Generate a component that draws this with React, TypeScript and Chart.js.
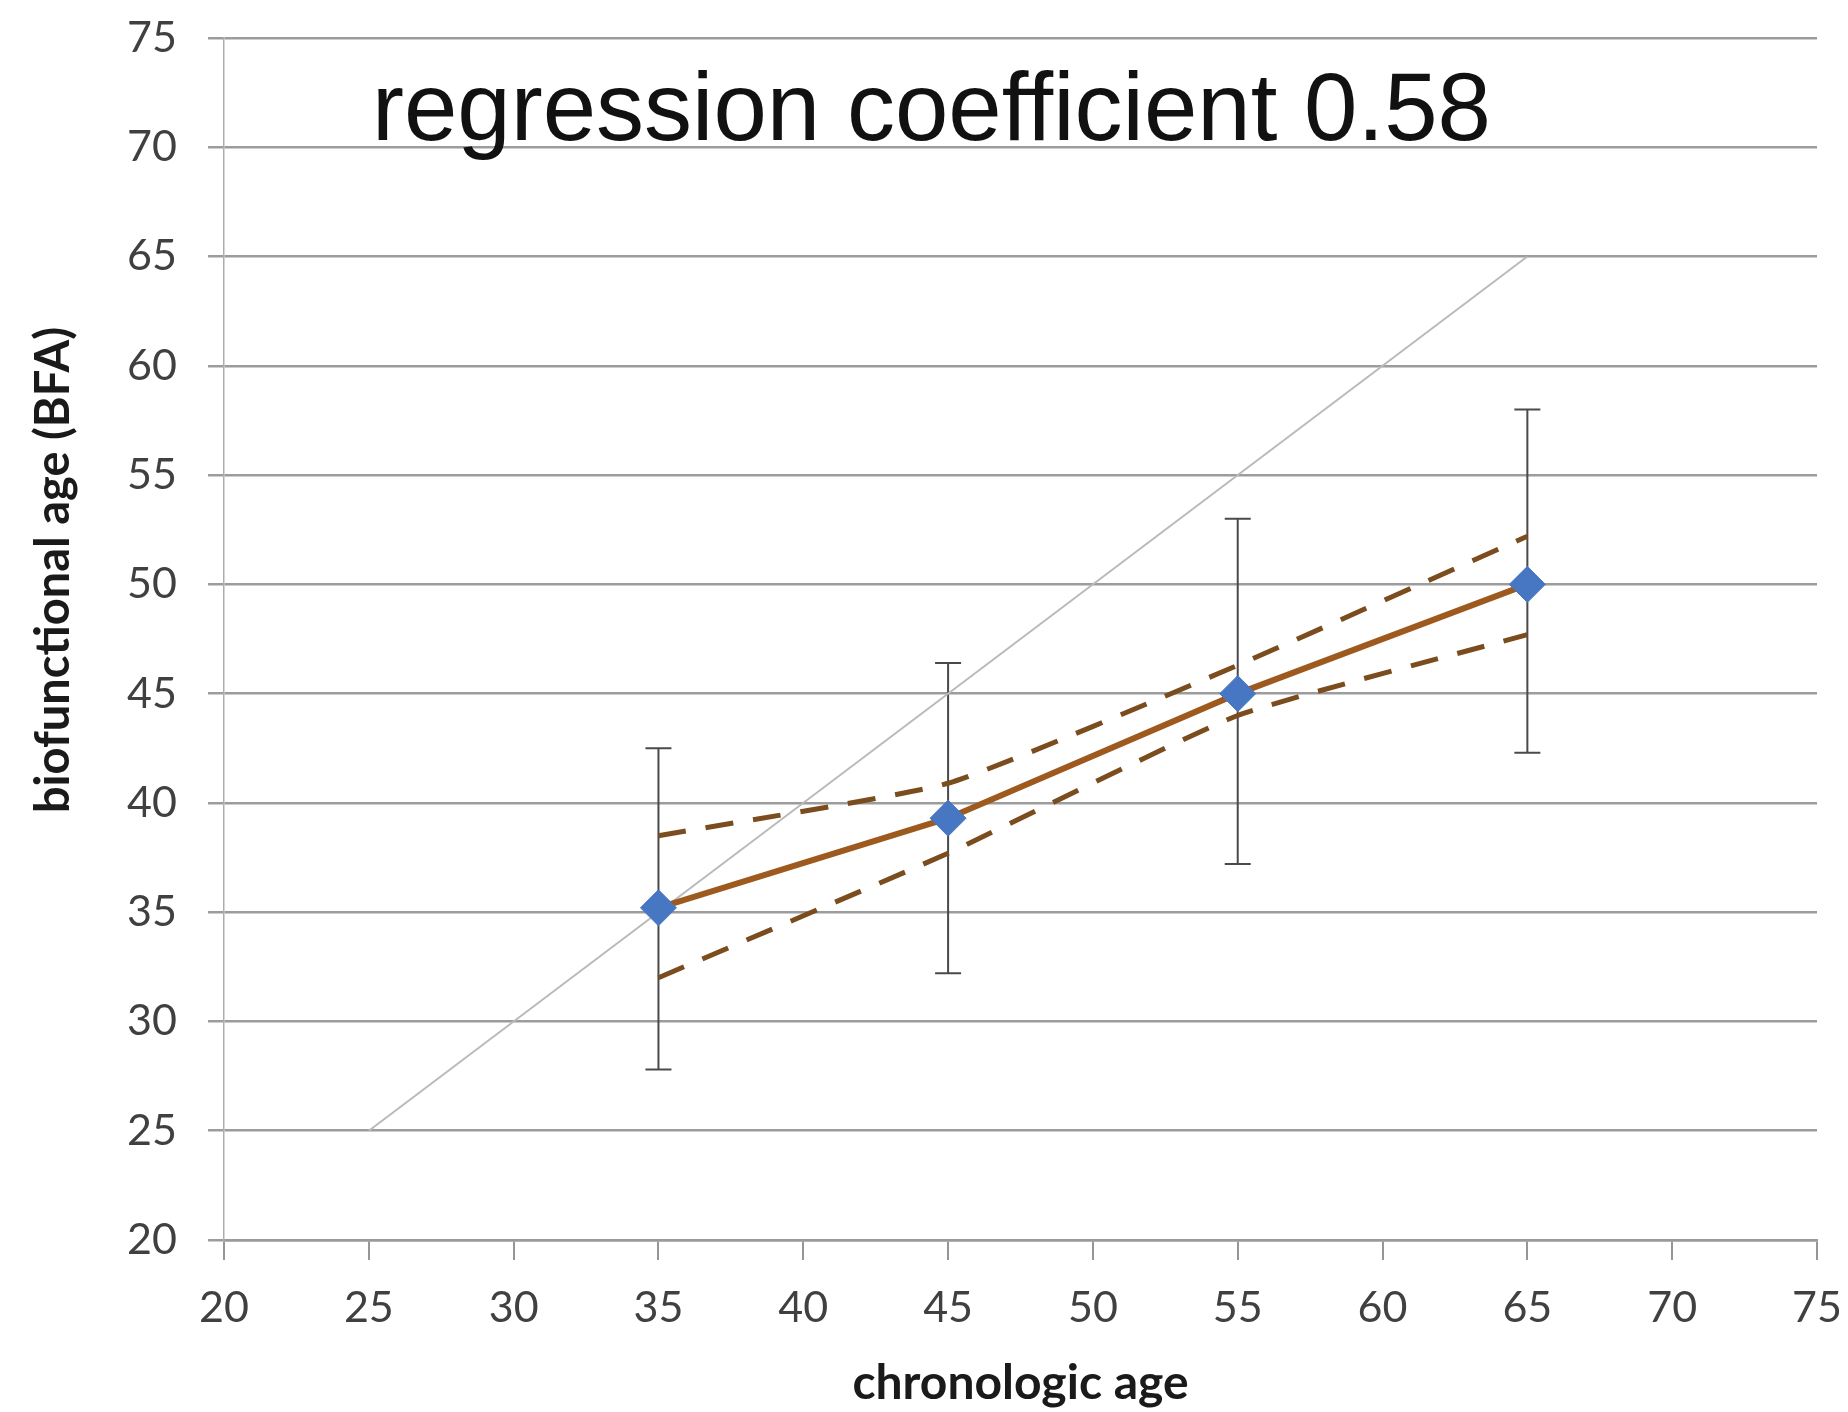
import React, { useEffect, useRef } from 'react';
import { Chart, registerables } from 'chart.js';

Chart.register(...registerables);

// ---- data ----
const chronologicAge = [35, 45, 55, 65];
const meanBFA = [35.2, 39.3, 45.0, 50.0];
const errorHigh = [42.5, 46.4, 53.0, 58.0];
const errorLow = [27.8, 32.2, 37.2, 42.3];
const ciUpper = [38.5, 40.9, 46.3, 52.2];
const ciLower = [32.0, 37.7, 44.0, 47.7];
const identityX = [25, 65];
const identityY = [25, 65];
const axisMin = 20;
const axisMax = 75;
const axisStep = 5;
const annotationText = 'regression coefficient 0.58';
const xTitle = 'chronologic age';
const yTitle = 'biofunctional age (BFA)';

const toPoints = (xs: number[], ys: number[]) => xs.map((x, i) => ({ x, y: ys[i] }));

const decorPlugin = {
  id: 'decor',
  beforeDatasetsDraw(chart: any) {
    const { ctx, scales } = chart;
    const xs = scales.x;
    const ys = scales.y;
    ctx.save();
    ctx.strokeStyle = '#4a4a4a';
    ctx.lineWidth = 2;
    chronologicAge.forEach((age, i) => {
      const px = xs.getPixelForValue(age);
      const pTop = ys.getPixelForValue(errorHigh[i]);
      const pBot = ys.getPixelForValue(errorLow[i]);
      ctx.beginPath();
      ctx.moveTo(px, pTop);
      ctx.lineTo(px, pBot);
      ctx.moveTo(px - 13, pTop);
      ctx.lineTo(px + 13, pTop);
      ctx.moveTo(px - 13, pBot);
      ctx.lineTo(px + 13, pBot);
      ctx.stroke();
    });
    ctx.restore();
  },
  afterDraw(chart: any) {
    const { ctx, chartArea } = chart;
    ctx.save();
    // annotation
    ctx.fillStyle = '#111111';
    ctx.font = '96px "Liberation Sans", Arial, sans-serif';
    ctx.textAlign = 'left';
    ctx.textBaseline = 'alphabetic';
    ctx.fillText(annotationText, chartArea.left + 148, chartArea.top + 102);
    // y title
    ctx.translate(54, 570);
    ctx.rotate(-Math.PI / 2);
    ctx.font = 'bold 47px Lato, sans-serif';
    ctx.fillStyle = '#1a1a1a';
    ctx.textAlign = 'center';
    ctx.textBaseline = 'middle';
    ctx.fillText(yTitle, 0, 0);
    ctx.restore();
  },
};

export default function App() {
  const canvasRef = useRef<HTMLCanvasElement | null>(null);

  useEffect(() => {
    if (!canvasRef.current) return;
    const chart = new Chart(canvasRef.current, {
      type: 'line',
      data: {
        datasets: [
          {
            label: 'mean BFA',
            data: toPoints(chronologicAge, meanBFA),
            borderColor: '#9e5a1e',
            borderWidth: 6,
            pointStyle: 'rectRot',
            pointRadius: 18,
            pointBackgroundColor: '#4776c2',
            pointBorderColor: '#4776c2',
            pointBorderWidth: 1,
            tension: 0,
          },
          {
            label: 'upper CI',
            data: toPoints(chronologicAge, ciUpper),
            borderColor: '#7a4c1e',
            borderWidth: 5,
            borderDash: [28, 20],
            pointRadius: 0,
            tension: 0.15,
          },
          {
            label: 'lower CI',
            data: toPoints(chronologicAge, ciLower),
            borderColor: '#7a4c1e',
            borderWidth: 5,
            borderDash: [28, 20],
            pointRadius: 0,
            tension: 0.15,
          },
          {
            label: 'identity',
            data: toPoints(identityX, identityY),
            borderColor: '#bababa',
            borderWidth: 2,
            pointRadius: 0,
          },
        ],
      },
      options: {
        responsive: false,
        animation: false,
        events: [],
        layout: { padding: { left: 0, right: 31, top: 38, bottom: 0 } },
        plugins: { legend: { display: false }, tooltip: { enabled: false } },
        scales: {
          x: {
            type: 'linear',
            min: axisMin,
            max: axisMax,
            afterFit: (s: any) => {
              s.height = 172;
              s.paddingLeft = 0;
              s.paddingRight = 0;
            },
            ticks: {
              stepSize: axisStep,
              color: '#404040',
              font: { family: 'Lato', size: 43 },
              padding: 22,
              maxRotation: 0,
            },
            grid: {
              drawOnChartArea: false,
              drawTicks: true,
              tickLength: 20,
              color: '#969696',
              lineWidth: 2,
            },
            border: { color: '#9a9a9a', width: 2.5 },
            title: {
              display: true,
              text: xTitle,
              color: '#1a1a1a',
              font: { family: 'Lato', size: 48, weight: 'bold' },
              padding: { top: 0, bottom: 0 },
            },
          },
          y: {
            type: 'linear',
            min: axisMin,
            max: axisMax,
            afterFit: (s: any) => {
              s.width = 224;
              s.paddingTop = 0;
              s.paddingBottom = 0;
            },
            ticks: {
              stepSize: axisStep,
              color: '#404040',
              font: { family: 'Lato', size: 43 },
              padding: 31,
            },
            grid: {
              color: '#9c9c9c',
              lineWidth: 2.5,
              tickLength: 16,
            },
            border: { color: '#adadad', width: 1.5 },
          },
        },
      },
      plugins: [decorPlugin],
    });
    return () => chart.destroy();
  }, []);

  return (
    <div style={{ position: 'absolute', left: 0, top: 0, width: 1848, height: 1412, background: '#ffffff' }}>
      <canvas ref={canvasRef} width={1848} height={1412} style={{ width: 1848, height: 1412, display: 'block' }} />
    </div>
  );
}
